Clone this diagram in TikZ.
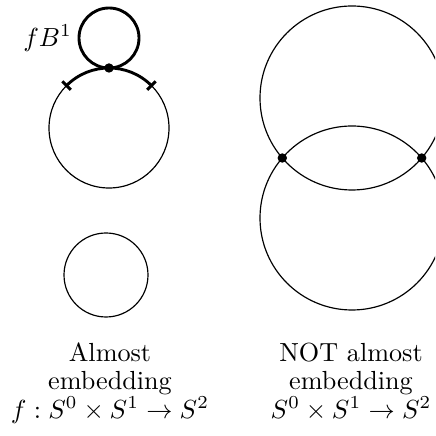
\documentclass[tikz,border=0pt]{standalone}
\usepackage{amsmath}
\usepackage{amssymb}
\usetikzlibrary{positioning}
\tikzset{
  thincurve/.style={draw=black, line width=0.45pt},
  thickcurve/.style={draw=black, line width=1.1pt},
  dotpt/.style={circle, fill=black, inner sep=0pt, minimum size=3.6pt},
  caption/.style={align=center, inner sep=0pt, font=\fontsize{10}{10.7}\selectfont}
}

\begin{document}
\begin{tikzpicture}[x=0.382pt, y=0.382pt]

  \useasboundingbox (0,0) rectangle (435,436);
  \clip (0,0) rectangle (435,436);

  % --- Almost embedding ---
  \draw[thincurve] (109,308) circle (60);
  \draw[thickcurve] (109,308) ++(45:60) arc (45:135:60);
  \draw[thickcurve] (109,398) circle (30);
  \draw[thickcurve] (109,308) ++(45:54) -- ++(45:12);
  \draw[thickcurve] (109,308) ++(135:54) -- ++(135:12);
  \node[dotpt] (touch) at (109,368) {};
  \coordinate (loopw) at (79,398);
  \node[left=2.5pt of loopw, inner sep=0pt] (fb) {$fB^1$};
  \draw[thincurve] (106,161) circle (42);

  % --- NOT almost embedding ---
  \draw[thincurve] (352,338) circle (92);
  \draw[thincurve] (352,218) circle (92);
  \node[dotpt] (cross1) at (282.3,278) {};
  \node[dotpt] (cross2) at (421.7,278) {};

  % --- Legendes ---
  \node[caption, anchor=base] (capA) at (110,18) {Almost\\embedding\\$f:S^0\times S^1\to S^2$};
  \node[caption, anchor=base] (capB) at (351,18) {NOT almost\\embedding\\$S^0\times S^1\to S^2$};

\end{tikzpicture}
\end{document}
